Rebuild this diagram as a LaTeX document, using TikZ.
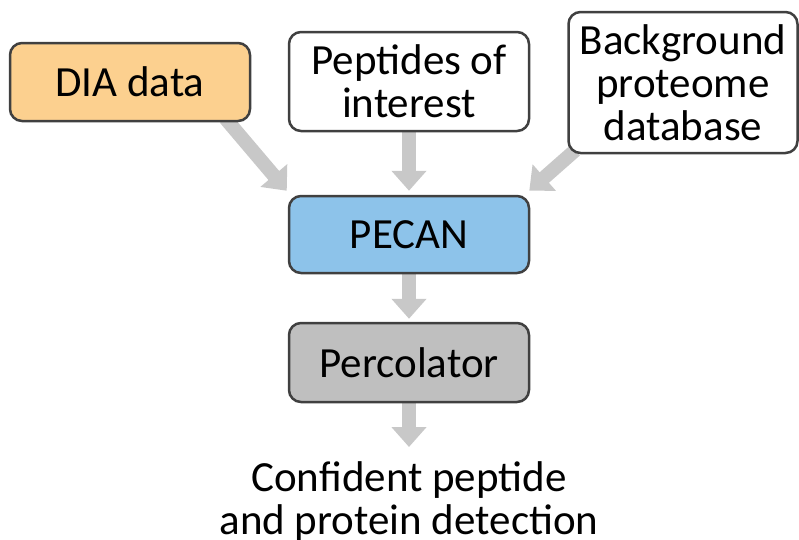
\documentclass[tikz,border=0pt]{standalone}
\usepackage{fontspec}
\setmainfont{Carlito}
\usetikzlibrary{arrows.meta,calc}
\pgfdeclarelayer{background}
\pgfsetlayers{background,main}
\definecolor{diafill}{HTML}{FCD08F}
\definecolor{pecanfill}{HTML}{8DC3EA}
\definecolor{percfill}{HTML}{BFBFBF}
\definecolor{flowgray}{HTML}{C8C8C8}
\definecolor{edgegray}{HTML}{404040}
\tikzset{
  box/.style={draw=edgegray, line width=2.5pt, rounded corners=12pt,
    align=center, inner sep=0pt, font=\fontsize{43}{43}\selectfont},
  flow/.style={flowgray, line width=14pt,
    -{Triangle[width=34pt,length=20pt]}},
}
\begin{document}
\begin{tikzpicture}[x=1pt,y=-1pt]
\useasboundingbox (0,0) rectangle (799,539);

% input boxes
\node[box, fill=diafill, minimum width=240pt, minimum height=78pt] (dia) at (130,82) {DIA data};
\node[box, fill=white, minimum width=240pt, minimum height=99pt] (pep) at (409,81.5) {Peptides of\\interest};
\node[box, fill=white, minimum width=229pt, minimum height=141pt] (bg) at (683,82.5) {Background\\proteome\\database};

% processing steps
\node[box, fill=pecanfill, minimum width=240pt, minimum height=77pt] (pecan) at (409,234.5) {PECAN};
\node[box, fill=percfill, minimum width=240pt, minimum height=79pt] (perc) at (409,362.5) {Percolator};

% result (base anchor sits on the last line's baseline)
\node[align=center, inner sep=0pt, anchor=base, font=\fontsize{43}{43}\selectfont] (out) at (409,534) {Confident peptide\\and protein detection};
\coordinate (outtip) at (409,447);

% gray block arrows behind the boxes
\begin{pgfonlayer}{background}
\draw[flow] ($(dia.south east)+(-26,-4)$) -- ($(pecan.north west)+(-1,-4)$);
\draw[flow] ($(pep.south)+(0,-4)$) -- ($(pecan.north)+(0,-4)$);
\draw[flow] ($(bg.south west)+(8,-4)$) -- ($(pecan.north east)+(-1,-4)$);
\draw[flow] ($(pecan.south)+(0,-4)$) -- ($(perc.north)+(0,-3)$);
\draw[flow] ($(perc.south)+(0,-4)$) -- (outtip);
\end{pgfonlayer}
\end{tikzpicture}
\end{document}
